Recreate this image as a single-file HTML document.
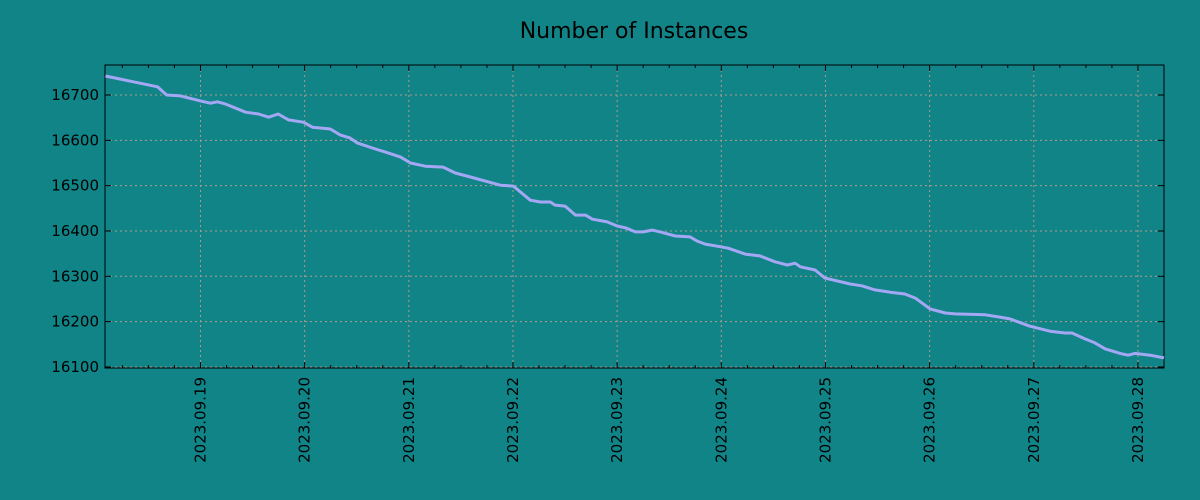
<!DOCTYPE html>
<html><head><meta charset="utf-8"><style>
html,body{margin:0;padding:0;background:#108487;}
svg{display:block;font-family:"DejaVu Sans","Liberation Sans",sans-serif;}
</style></head><body>
<svg id="chart" width="1200" height="500" viewBox="0 0 1200 500" xmlns="http://www.w3.org/2000/svg">
<rect x="0" y="0" width="1200" height="500" fill="#108487"/>
<text x="634" y="38" text-anchor="middle" font-size="22" fill="#000">Number of Instances</text>
<g id="grid"></g>
<g id="axes"></g>
<g id="series"></g>
</svg>
<script>
const hours = [2.1,14.1,16.2,19.4,24.0,26.3,27.9,29.8,34.4,37.4,39.7,41.9,44.3,47.7,49.8,53.9,56.2,58.5,60.2,63.6,66.6,70.1,72.4,75.8,79.9,82.7,86.2,93.1,96.1,100.0,102.3,104.6,105.7,108.0,110.4,112.7,114.3,117.7,120.0,121.9,124.2,126.0,128.1,129.9,133.4,136.8,138.4,140.3,143.9,145.6,149.5,152.9,156.4,159.2,161.0,162.2,165.6,167.9,173.7,176.4,179.4,182.9,186.3,188.7,192.1,195.6,197.9,204.8,208.2,210.5,215.1,219.7,223.2,224.8,227.8,230.1,232.4,235.9,237.7,239.3,242.8,246.0];
const values = [16742,16718,16700,16698,16687,16682,16685,16680,16662,16658,16651,16658,16645,16640,16629,16625,16612,16605,16594,16583,16574,16563,16550,16543,16541,16528,16519,16501,16499,16468,16464,16464,16457,16455,16435,16435,16426,16420,16411,16407,16398,16398,16402,16398,16389,16387,16378,16371,16365,16362,16349,16345,16332,16325,16329,16321,16314,16296,16283,16279,16270,16265,16261,16252,16228,16219,16217,16215,16210,16206,16190,16179,16175,16175,16162,16153,16140,16130,16126,16130,16126,16120];
const yTicks = [16100,16200,16300,16400,16500,16600,16700];
const xTickLabels = ["2023.09.19","2023.09.20","2023.09.21","2023.09.22","2023.09.23","2023.09.24","2023.09.25","2023.09.26","2023.09.27","2023.09.28"];
const xTickHours = [24,48,72,96,120,144,168,192,216,240];

const L=105,R=1164,T=65,B=368;
const xMin=2,xMax=246,yMin=16097.7,yMax=16766.2;
function xs(h){return L+(h-xMin)/(xMax-xMin)*(R-L);}
function ys(v){return B-(v-yMin)/(yMax-yMin)*(B-T);}
const NS="http://www.w3.org/2000/svg";
function mk(tag,attrs,parent){const e=document.createElementNS(NS,tag);for(const k in attrs)e.setAttribute(k,attrs[k]);parent.appendChild(e);return e;}
const grid=document.getElementById('grid'),axes=document.getElementById('axes'),series=document.getElementById('series');

yTicks.forEach(v=>{const y=ys(v);
 const g=mk('line',{x1:L,x2:R,y1:y,y2:y,stroke:'#b09a8c','stroke-width':1,'stroke-dasharray':'2,3'},grid);
 
 
 const t1=mk('line',{x1:L,x2:L+6,y1:y,y2:y,stroke:'#000'},axes);
 
 
 const t2=mk('line',{x1:R-6,x2:R,y1:y,y2:y,stroke:'#000'},axes);
 
 
 const lb=mk('text',{x:L-6,y:y+5,'text-anchor':'end','font-size':15,fill:'#000'},axes);
 lb.textContent=v;
 
 
});
for(let h=6;h<=xMax;h+=6){const x=xs(h);const major=h%24===0;const len=major?6:3;
 const a=mk('line',{x1:x,x2:x,y1:B,y2:B-len,stroke:'#000'},axes);
 
 
 const b=mk('line',{x1:x,x2:x,y1:T,y2:T+len,stroke:'#000'},axes);
 
 
}
xTickHours.forEach((h,i)=>{const x=xs(h);
 const g=mk('line',{x1:x,x2:x,y1:T,y2:B,stroke:'#b09a8c','stroke-width':1,'stroke-dasharray':'2,3'},grid);
 
 
 const lb=mk('text',{x:0,y:0,'text-anchor':'end','font-size':15,fill:'#000',transform:`translate(${x+5},377) rotate(-90)`},axes);
 lb.textContent=xTickLabels[i];
 
 
});
const frame=mk('rect',{x:L,y:T,width:R-L,height:B-T,fill:'none',stroke:'#000','stroke-width':1},axes);


const pts=hours.map((h,i)=>xs(h).toFixed(1)+','+ys(values[i]).toFixed(1)).join(' ');
const line=mk('polyline',{points:pts,fill:'none',stroke:'#a4a8f4','stroke-width':3,'stroke-linejoin':'round'},series);


</script>
</body></html>
